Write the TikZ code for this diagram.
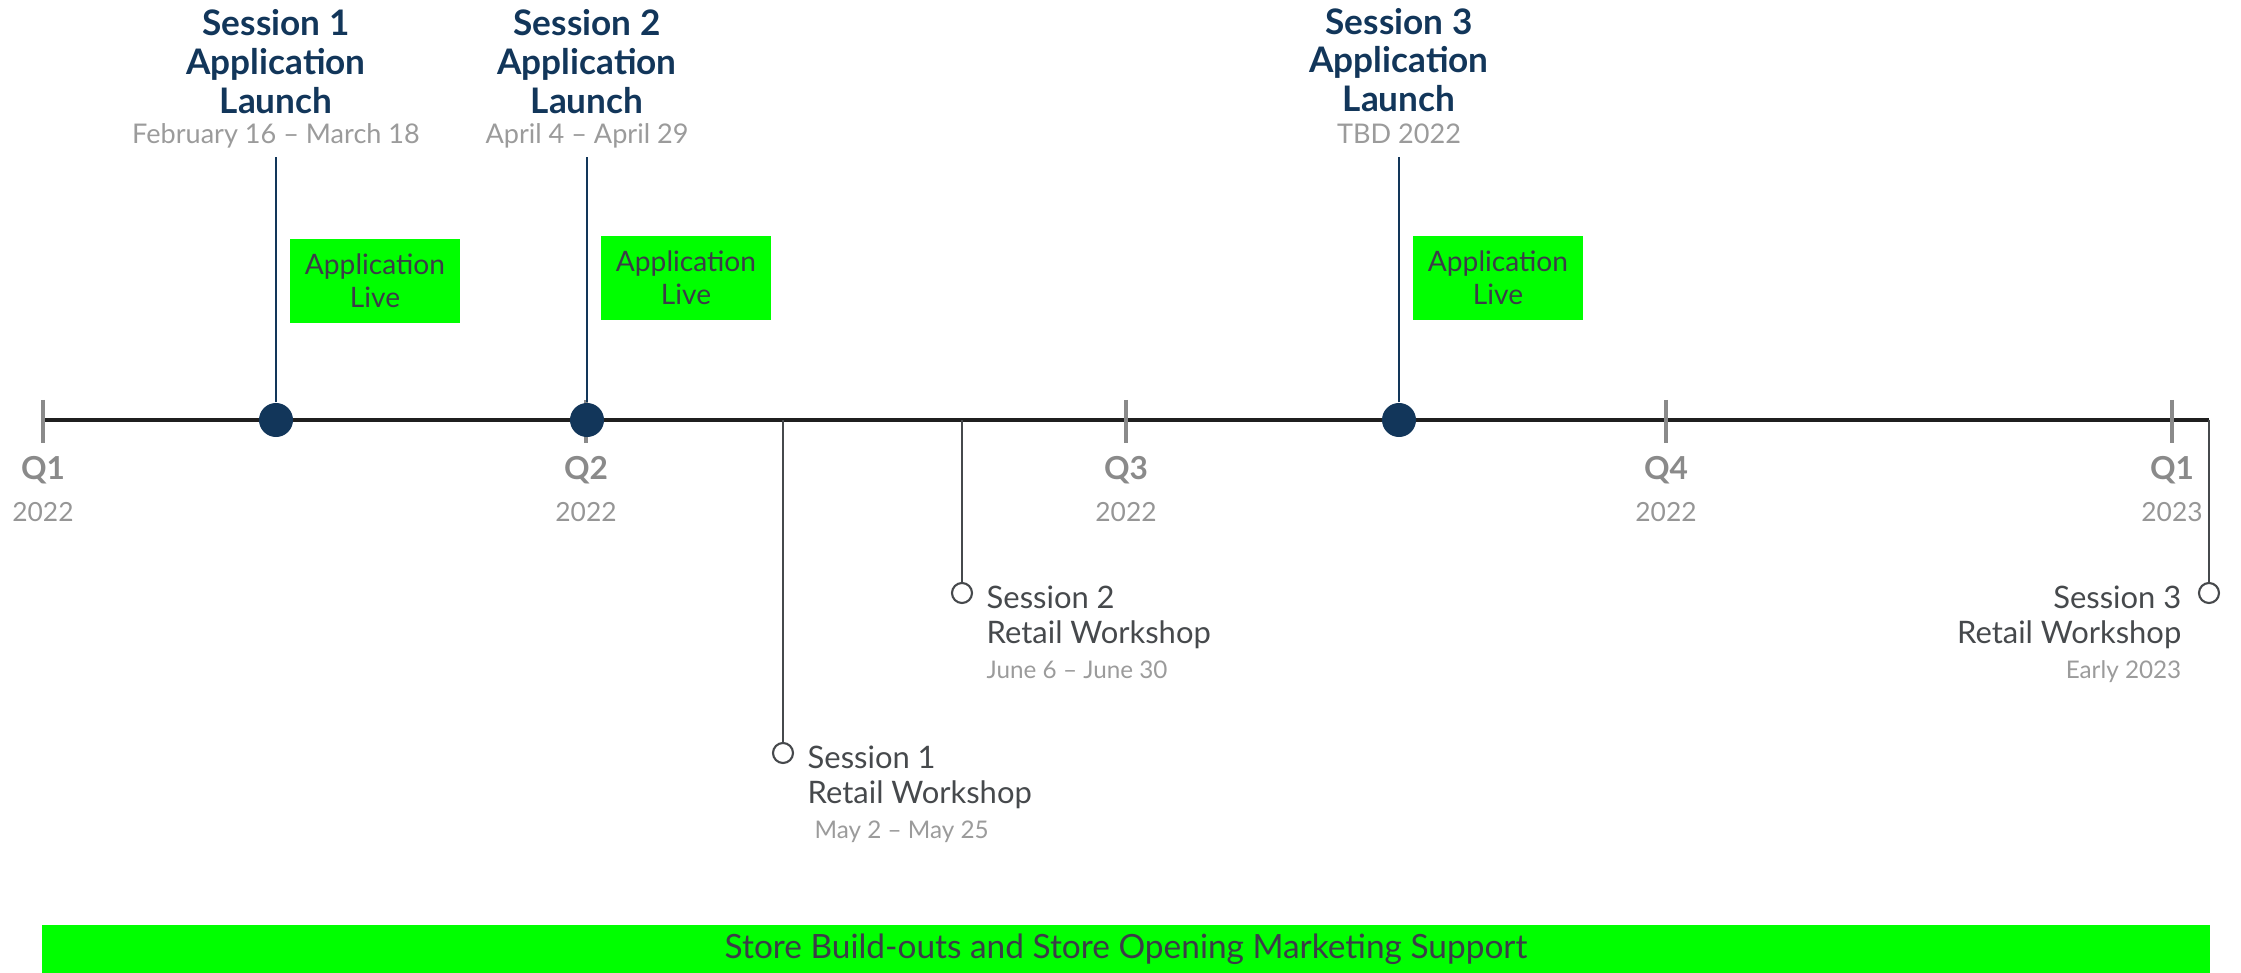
\documentclass[tikz,border=0pt]{standalone}
\usepackage{fontspec}
\setmainfont{Lato}
\usetikzlibrary{positioning}
\definecolor{lnchnavy}{HTML}{12365A}
\definecolor{livegreen}{HTML}{00FF00}
\definecolor{qgrey}{HTML}{8A8A8A}
\definecolor{dategrey}{HTML}{9B9B9B}
\definecolor{wsgrey}{HTML}{46494C}
\definecolor{boxtext}{HTML}{3C3C48}
\newcommand{\wsdatefont}{\fontsize{6.9}{9}\selectfont\color{dategrey}}

\begin{document}
\begin{tikzpicture}[x=0.01cm, y=-0.01cm,
    axis/.style={line width=1pt, black!88},
    qtick/.style={line width=1.2pt, qgrey},
    qlabel/.style={font=\fontsize{9}{10}\selectfont\bfseries, text=qgrey, inner sep=0pt},
    yrlabel/.style={font=\fontsize{7.5}{9}\selectfont, text=qgrey!90, inner sep=0pt},
    launchdot/.style={circle, fill=lnchnavy, inner sep=0pt, minimum size=0.34cm},
    launchline/.style={line width=0.55pt, lnchnavy},
    launchtitle/.style={align=center, font=\fontsize{10}{11}\selectfont\bfseries, text=lnchnavy, inner sep=0pt},
    launchdate/.style={font=\fontsize{7.7}{10}\selectfont, text=dategrey, inner sep=0pt},
    livebox/.style={fill=livegreen, align=center, text=boxtext, font=\fontsize{8}{9.4}\selectfont,
        minimum width=1.7cm, minimum height=0.83cm, inner sep=0pt},
    wsdot/.style={circle, draw=wsgrey, fill=white, line width=0.6pt, inner sep=0pt, minimum size=0.2cm},
    wsline/.style={line width=0.6pt, wsgrey},
    wstext/.style={font=\fontsize{8.8}{10}\selectfont, text=wsgrey, inner sep=0pt},
    barbox/.style={fill=livegreen, text=boxtext, font=\fontsize{9.5}{10}\selectfont,
        minimum width=21.66cm, minimum height=0.48cm, inner sep=0pt}
]
    \useasboundingbox (0,0) rectangle (2241,973);

    % timeline and quarters
    \coordinate (tstart) at (43,420);
    \coordinate (tend) at (2209,420);
    \draw[axis] (tstart) -- (tend);
    \foreach \qx/\qn/\qy [count=\i] in {43/Q1/2022, 586/Q2/2022, 1126/Q3/2022, 1666/Q4/2022, 2172/Q1/2023} {
        \draw[qtick] (\qx,400) -- (\qx,443);
        \node[qlabel] (q\i) at (\qx,470) {\qn};
        \node[yrlabel] (y\i) at (\qx,512) {\qy};
    }

    % application launches
    \node[launchdate] (d1) at (276,136) {February 16 -- March 18};
    \node[launchtitle, above=0.09cm of d1] (t1) {Session 1\\Application\\Launch};
    \node[launchdate] (d2) at (587,136) {April 4 -- April 29};
    \node[launchtitle, above=0.09cm of d2] (t2) {Session 2\\Application\\Launch};
    \node[launchdate] (d3) at (1399,134) {TBD 2022};
    \node[launchtitle, above=0.11cm of d3] (t3) {Session 3\\Application\\Launch};

    \coordinate (top1) at (276,157);
    \coordinate (top2) at (587,157);
    \coordinate (top3) at (1399,157);
    \node[launchdot] (dot1) at (276,420) {};
    \node[launchdot] (dot2) at (587,420) {};
    \node[launchdot] (dot3) at (1399,420) {};
    \draw[launchline] (dot1) -- (top1);
    \draw[launchline] (dot2) -- (top2);
    \draw[launchline] (dot3) -- (top3);

    \node[livebox] (live1) at (375,281) {Application\\Live};
    \node[livebox] (live2) at (686,278) {Application\\Live};
    \node[livebox] (live3) at (1498,278) {Application\\Live};

    % retail workshops
    \coordinate (wt1) at (783,420);
    \coordinate (wt2) at (962,420);
    \node[wsdot] (ws1) at (783,753) {};
    \node[wsdot] (ws2) at (962,593) {};
    \node[wsdot] (ws3) at (2209,593) {};
    \draw[wsline] (wt1) -- (ws1);
    \draw[wsline] (wt2) -- (ws2);
    \draw[wsline] (tend) -- (ws3);

    \node[wstext, align=left, anchor=north west] (wl1) at (807,745)
        {Session 1\\Retail Workshop\\{\wsdatefont\hspace{2pt}May 2 -- May 25}};
    \node[wstext, align=left, anchor=north west] (wl2) at (986,585)
        {Session 2\\Retail Workshop\\{\wsdatefont June 6 -- June 30}};
    \node[wstext, align=right, anchor=north east] (wl3) at (2182,585)
        {Session 3\\Retail Workshop\\{\wsdatefont Early 2023}};

    \node[barbox] (bar) at (1126,949) {Store Build-outs and Store Opening Marketing Support};
\end{tikzpicture}
\end{document}
